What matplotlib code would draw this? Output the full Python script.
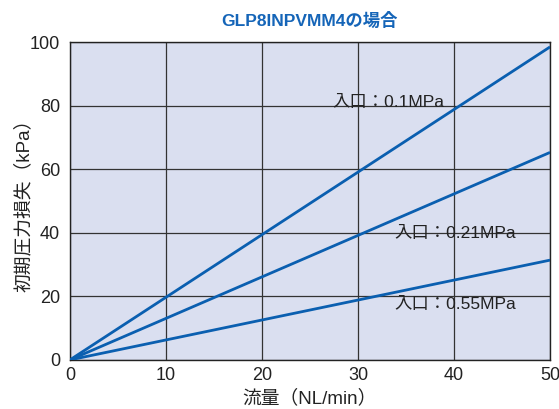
import matplotlib
matplotlib.use("Agg")
import matplotlib.pyplot as plt

plt.rcParams['font.family'] = ['Liberation Sans', 'Noto Sans CJK JP', 'DejaVu Sans']

flow = [0, 50]
series_labels = ["入口：0.1MPa", "入口：0.21MPa", "入口：0.55MPa"]
series_values = [[0, 98.5], [0, 65.3], [0, 31.4]]
label_pos = [(27.3, 78.5), (33.8, 37.3), (33.8, 15.2)]
xticks = [0, 10, 20, 30, 40, 50]
yticks = [0, 20, 40, 60, 80, 100]

fig = plt.figure(figsize=(5.59, 4.09), dpi=100)
ax = fig.add_axes([0.125, 0.12, 0.859, 0.777])
ax.set_facecolor('#DADFF0')
for vals in series_values:
    ax.plot(flow, vals, color='#0A5FB0', lw=2.0, solid_capstyle='butt', zorder=3)
for lab, (x, y) in zip(series_labels, label_pos):
    ax.text(x, y, lab, fontsize=12.5, color='#222222', ha='left', va='bottom', zorder=4)
ax.set_xlim(0, 50)
ax.set_ylim(0, 100)
ax.set_xticks(xticks)
ax.set_yticks(yticks)
ax.grid(True, color='#333333', lw=0.9)
ax.set_axisbelow(True)
ax.tick_params(length=0, labelsize=13, colors='#222222')
ax.tick_params(axis='y', pad=7)
ax.tick_params(axis='x', pad=5)
for s in ax.spines.values():
    s.set_color('#222222')
    s.set_linewidth(1.0)
ax.set_xlabel("流量（NL/min）", fontsize=13.5, color='#222222', labelpad=4)
ax.set_ylabel("初期圧力損失（kPa）", fontsize=13.5, color='#222222', labelpad=-2)
ax.set_title("GLP8INPVMM4の場合", fontsize=12.5, fontweight='bold', color='#1565B8', pad=12)
fig.savefig("out.png", dpi=100)
